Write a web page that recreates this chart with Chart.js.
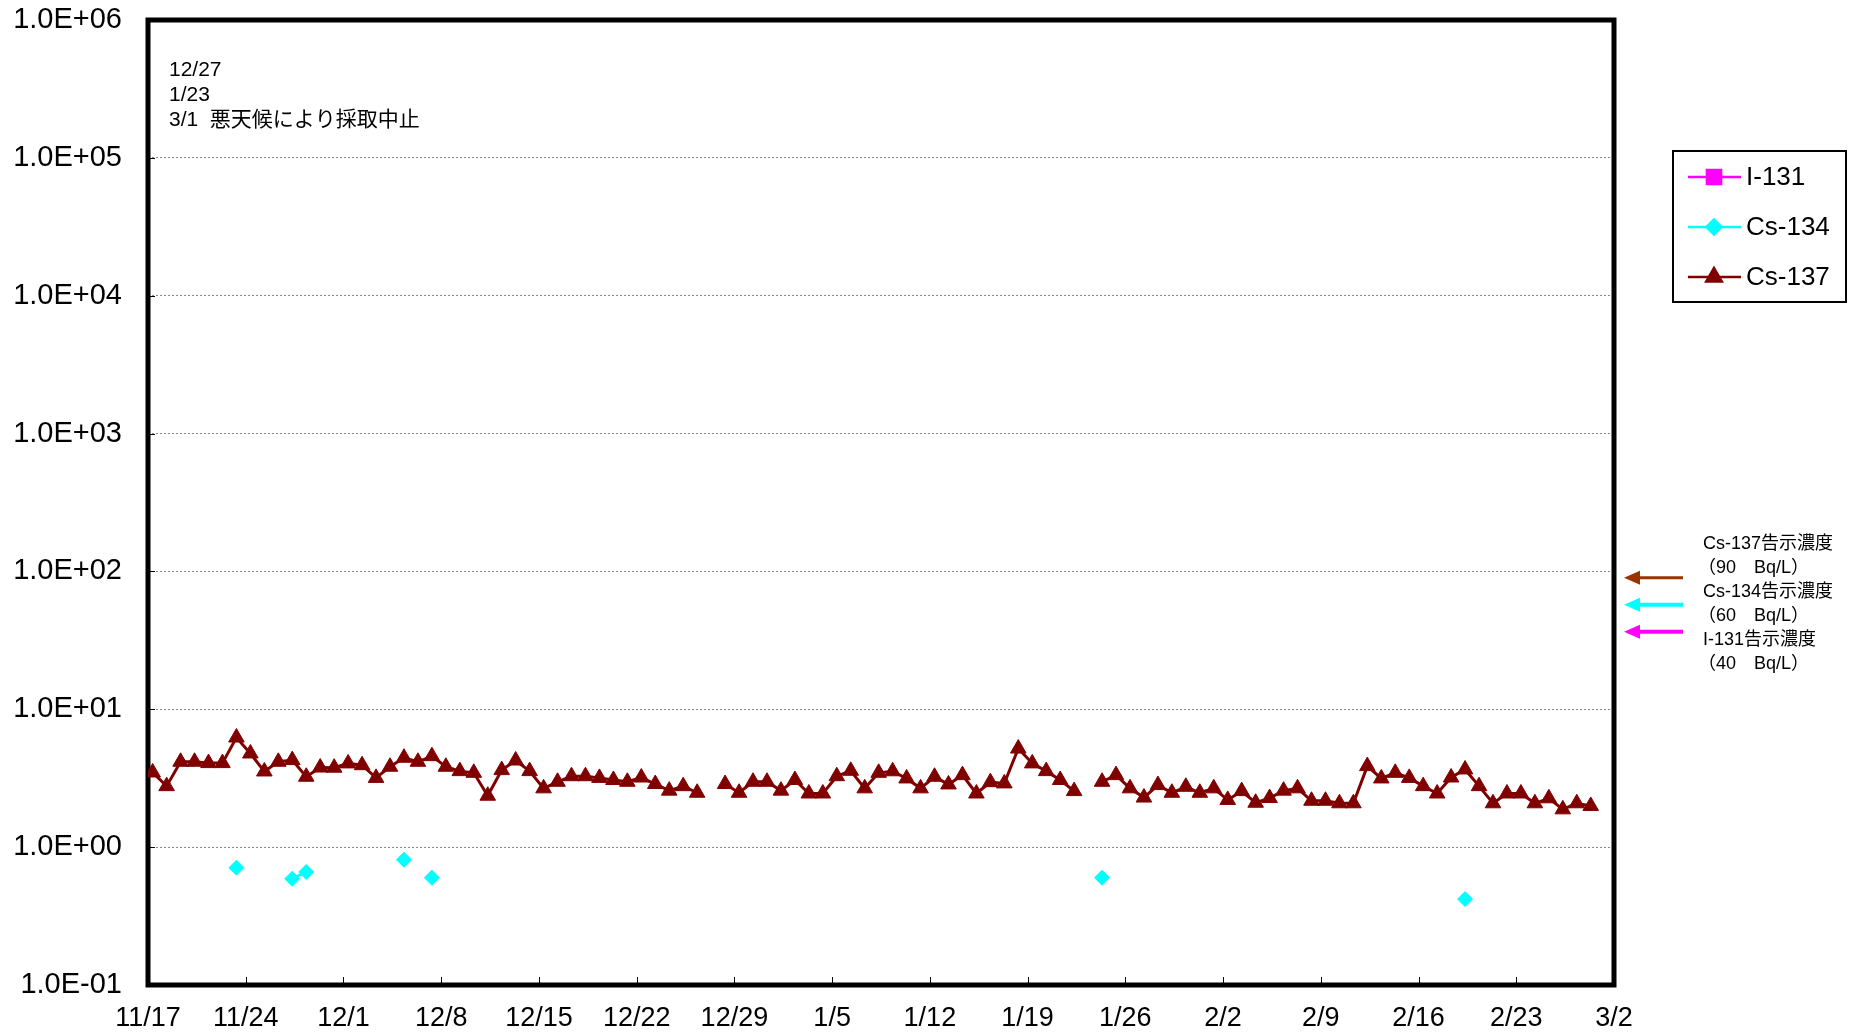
<!DOCTYPE html>
<html>
<head>
<meta charset="utf-8">
<script src="https://cdn.jsdelivr.net/npm/chart.js@4.4.1/dist/chart.umd.min.js"></script>
<style>
html, body { margin: 0; padding: 0; background: #fff; }
canvas { display: block; }
</style>
</head>
<body>
<canvas id="chart" width="1856" height="1035"></canvas>
<script>
// Days are counted from 11/17 (day 0). 12/27, 1/23 and 3/1: no sample (bad weather)
var xTickDays = [0, 7, 14, 21, 28, 35, 42, 49, 56, 63, 70, 77, 84, 91, 98, 105];
var xTickLabels = ["11/17", "11/24", "12/1", "12/8", "12/15", "12/22", "12/29", "1/5",
	"1/12", "1/19", "1/26", "2/2", "2/9", "2/16", "2/23", "3/2"];

// samples are taken in the morning, so points sit a bit after the date tick
var sampleHour = 8;

var yTickValues = [0.1, 1, 10, 100, 1000, 10000, 100000, 1000000];
var yTickLabels = ["1.0E-01", "1.0E+00", "1.0E+01", "1.0E+02", "1.0E+03", "1.0E+04", "1.0E+05", "1.0E+06"];

// I-131: not detected
var i131Days = [];
var i131Values = [];

// Cs-134: detected only on a few days
var cs134Days = [6, 10, 11, 18, 20, 68, 94];
var cs134Values = [0.71, 0.59, 0.66, 0.81, 0.60, 0.60, 0.42];

// Cs-137, one value per day from 11/17 to 2/28
var cs137Values = [
	3.48, 2.77, 4.16, 4.16, 4.07, 4.07, 6.24, 4.78, 3.54, 4.16,
	4.28, 3.24, 3.78, 3.77, 4.05, 3.93, 3.18, 3.83, 4.45, 4.16,
	4.57, 3.83, 3.56, 3.46, 2.36, 3.62, 4.25, 3.56, 2.67, 2.98,
	3.27, 3.27, 3.18, 3.07, 2.98, 3.20, 2.87, 2.57, 2.77, 2.48,
	null, 2.87, 2.48, 2.98, 2.98, 2.57, 3.07, 2.45, 2.45, 3.27,
	3.58, 2.67, 3.46, 3.55, 3.15, 2.67, 3.24, 2.85, 3.33, 2.45,
	2.96, 2.90, 5.19, 4.05, 3.56, 3.07, 2.55, null, 2.98, 3.33,
	2.67, 2.29, 2.82, 2.48, 2.74, 2.48, 2.67, 2.20, 2.55, 2.10,
	2.27, 2.57, 2.67, 2.17, 2.17, 2.08, 2.08, 3.87, 3.15, 3.46,
	3.18, 2.77, 2.45, 3.20, 3.66, 2.77, 2.08, 2.45, 2.45, 2.08,
	2.26, 1.88, 2.08, 1.99
];

// notification limits shown with arrows at the right
var limitNames = ["Cs-137告示濃度", "Cs-134告示濃度", "I-131告示濃度"];
var limitTexts = ["（90　Bq/L）", "（60　Bq/L）", "（40　Bq/L）"];
var limitColors = ["#993300", "#00FFFF", "#FF00FF"];

var noteLines = ["12/27", "1/23", "3/1  "];
var noteText = "悪天候により採取中止";

var FONT = "'Liberation Sans', Arial, 'Noto Sans CJK JP', sans-serif";

function sparse(days, values) {
	var out = [];
	for (var i = 0; i < days.length; i++) {
		out.push({ x: days[i] + sampleHour / 24, y: values[i] });
	}
	return out;
}

function daily(values) {
	return values.map(function (v, i) { return { x: i + sampleHour / 24, y: v }; });
}

// Cs-134 on consecutive days is joined by a line, otherwise isolated
var cs134Daily = cs137Values.map(function () { return null; });
cs134Days.forEach(function (d, i) { cs134Daily[d] = cs134Values[i]; });

var series = [
	{ name: "I-131", color: "#FF00FF", style: "rect", radius: 10, data: sparse(i131Days, i131Values) },
	{ name: "Cs-134", color: "#00FFFF", style: "rectRot", radius: 7.5, data: daily(cs134Daily) },
	{ name: "Cs-137", color: "#800000", style: "triangle", radius: 9, data: daily(cs137Values) }
];

var decorations = {
	id: "decorations",
	beforeDatasetsDraw: function (chart) {
		var ctx = chart.ctx;
		var a = chart.chartArea;
		var x = chart.scales.x;
		var y = chart.scales.y;
		ctx.save();
		ctx.strokeStyle = "#000";
		ctx.lineWidth = 1;
		ctx.beginPath();
		xTickDays.forEach(function (d) {
			var px = Math.round(x.getPixelForValue(d)) + 0.5;
			ctx.moveTo(px, a.bottom);
			ctx.lineTo(px, a.bottom - 8);
		});
		yTickValues.forEach(function (v) {
			var py = Math.round(y.getPixelForValue(v)) + 0.5;
			ctx.moveTo(a.left, py);
			ctx.lineTo(a.left + 7, py);
		});
		ctx.stroke();
		ctx.lineWidth = 5;
		ctx.strokeRect(a.left, a.top, a.right - a.left, a.bottom - a.top);
		ctx.restore();
	},
	afterDraw: function (chart) {
		var ctx = chart.ctx;
		var a = chart.chartArea;
		var y = chart.scales.y;
		ctx.save();

		// note in the top left corner
		ctx.fillStyle = "#000";
		ctx.textBaseline = "middle";
		ctx.textAlign = "left";
		ctx.font = "21px " + FONT;
		noteLines.forEach(function (t, i) {
			ctx.fillText(t, a.left + 21, 70 + i * 25);
		});
		var w = ctx.measureText(noteLines[2]).width;
		ctx.fillText(noteText, a.left + 21 + w, 120);

		// legend
		var lx = 1673, ly = 151;
		ctx.lineWidth = 2;
		ctx.strokeStyle = "#000";
		ctx.fillStyle = "#fff";
		ctx.fillRect(lx, ly, 173, 151);
		ctx.strokeRect(lx, ly, 173, 151);
		ctx.font = "26px " + FONT;
		series.forEach(function (s, i) {
			var yy = 177 + i * 50;
			ctx.strokeStyle = s.color;
			ctx.lineWidth = 2.5;
			ctx.beginPath();
			ctx.moveTo(1688, yy);
			ctx.lineTo(1741, yy);
			ctx.stroke();
			ctx.fillStyle = s.color;
			Chart.helpers.drawPoint(ctx, { pointStyle: s.style, radius: s.radius, rotation: 0, borderWidth: 1 }, 1714, yy);
			ctx.fillStyle = "#000";
			ctx.fillText(s.name, 1746, yy + 1);
		});

		// limit arrows
		var y0 = y.getPixelForValue(90);
		for (var i = 0; i < limitNames.length; i++) {
			var ay = y0 + i * 27;
			ctx.strokeStyle = limitColors[i];
			ctx.fillStyle = limitColors[i];
			ctx.lineWidth = i === 0 ? 3 : 4;
			ctx.beginPath();
			ctx.moveTo(1683, ay);
			ctx.lineTo(1636, ay);
			ctx.stroke();
			ctx.beginPath();
			ctx.moveTo(1624, ay);
			ctx.lineTo(1640, ay - 7);
			ctx.lineTo(1640, ay + 7);
			ctx.closePath();
			ctx.fill();
		}
		ctx.fillStyle = "#000";
		ctx.font = "18px " + FONT;
		for (var j = 0; j < limitNames.length; j++) {
			ctx.fillText(limitNames[j], 1703, 544 + j * 48);
			ctx.fillText(limitTexts[j], 1698, 568 + j * 48);
		}
		ctx.restore();
	}
};

var chart = new Chart(document.getElementById("chart").getContext("2d"), {
	type: "line",
	data: {
		datasets: series.map(function (s) {
			return {
				label: s.name,
				data: s.data,
				borderColor: s.color,
				backgroundColor: s.color,
				borderWidth: 3,
				pointStyle: s.style,
				pointRadius: s.radius,
				pointBackgroundColor: s.color,
				pointBorderColor: s.color,
				pointBorderWidth: 1,
				spanGaps: false,
				tension: 0
			};
		})
	},
	options: {
		responsive: false,
		animation: false,
		layout: { padding: { top: 20, right: 242, left: 0, bottom: 0 } },
		plugins: {
			legend: { display: false },
			tooltip: { enabled: false }
		},
		scales: {
			x: {
				type: "linear",
				min: 0,
				max: 105,
				afterBuildTicks: function (s) {
					s.ticks = xTickDays.map(function (d) { return { value: d }; });
				},
				afterFit: function (s) {
					s.height = 50;
					s.paddingLeft = 0;
					s.paddingRight = 0;
				},
				ticks: {
					autoSkip: false,
					maxRotation: 0,
					padding: 17,
					color: "#000",
					font: { family: FONT, size: 27 },
					callback: function (v, i) { return xTickLabels[i]; }
				},
				grid: { display: false, drawTicks: false },
				border: { display: false }
			},
			y: {
				type: "logarithmic",
				min: 0.1,
				max: 1000000,
				afterBuildTicks: function (s) {
					s.ticks = yTickValues.map(function (v) { return { value: v }; });
				},
				afterFit: function (s) {
					s.width = 148;
					s.paddingTop = 0;
					s.paddingBottom = 0;
				},
				ticks: {
					padding: 26,
					color: "#000",
					font: { family: FONT, size: 29 },
					callback: function (v, i) { return yTickLabels[i]; }
				},
				grid: { color: "#888", lineWidth: 1, drawTicks: false },
				border: { display: false, dash: [2, 2] }
			}
		}
	},
	plugins: [decorations]
});
</script>
</body>
</html>
